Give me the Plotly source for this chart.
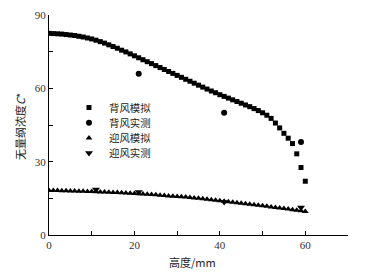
import plotly.graph_objects as go

x_sim = list(range(0, 61))
bw_sim = [82.5, 82.4, 82.3, 82.2, 82.0, 81.8, 81.6, 81.3, 81.0, 80.6,
          80.2, 79.7, 79.1, 78.5, 77.8, 77.1, 76.4, 75.6, 74.9, 74.1,
          73.3, 72.5, 71.7, 70.9, 70.1, 69.3, 68.5, 67.7, 66.9, 66.1,
          65.3, 64.5, 63.7, 62.9, 62.1, 61.3, 60.5, 59.7, 58.9, 58.2,
          57.4, 56.7, 56.0, 55.3, 54.6, 53.9, 53.2, 52.5, 51.7, 50.9,
          50.0, 49.0, 47.7, 45.8, 43.8, 41.6, 39.6, 37.4, 33.2, 27.6,
          22.0]
uw_sim = [18.2, 18.2, 18.2, 18.1, 18.1, 18.0, 18.0, 17.9, 17.9, 17.8,
          17.8, 17.7, 17.6, 17.6, 17.5, 17.4, 17.4, 17.3, 17.2, 17.1,
          17.0, 16.9, 16.8, 16.7, 16.6, 16.5, 16.3, 16.2, 16.0, 15.9,
          15.8, 15.6, 15.5, 15.3, 15.1, 15.0, 14.8, 14.6, 14.4, 14.2,
          14.0, 13.8, 13.6, 13.4, 13.2, 13.0, 12.8, 12.6, 12.4, 12.2,
          12.0, 11.8, 11.5, 11.3, 11.0, 10.8, 10.6, 10.3, 10.1, 9.9,
          9.6]
bw_exp_x = [21, 41, 59]
bw_exp_y = [66, 50, 38]
uw_exp_x = [11, 21, 41, 59]
uw_exp_y = [18.6, 17.6, 13.5, 11.3]

names = ["背风模拟", "背风实测", "迎风模拟", "迎风实测"]

L, R, T, B = 49, 17, 15, 39
W, H = 365, 274
PW, PH = W - L - R, H - T - B

fig = go.Figure()
fig.add_trace(go.Scatter(x=x_sim, y=bw_sim, mode="markers", name=names[0], legend="legend",
                         marker=dict(symbol="square", size=5, color="black")))
fig.add_trace(go.Scatter(x=bw_exp_x, y=bw_exp_y, mode="markers", name=names[1], legend="legend2",
                         marker=dict(symbol="circle", size=6, color="black")))
fig.add_trace(go.Scatter(x=x_sim, y=uw_sim, mode="markers", name=names[2], legend="legend3",
                         marker=dict(symbol="triangle-up", size=6, color="black")))
fig.add_trace(go.Scatter(x=uw_exp_x, y=uw_exp_y, mode="markers", name=names[3], legend="legend4",
                         marker=dict(symbol="triangle-down", size=7, color="black")))


def leg(ypx):
    return dict(x=(69 - L) / PW, y=(H - B - ypx) / PH, xanchor="left", yanchor="middle",
                bgcolor="rgba(0,0,0,0)", font=dict(size=10.4, family="Noto Sans CJK SC", color="#222"),
                itemwidth=30, tracegroupgap=0, borderwidth=0)


tickfont = dict(family="Liberation Serif", size=11, color="#333")
fig.update_layout(
    width=W, height=H,
    margin=dict(l=L, r=R, t=T, b=B, autoexpand=False),
    paper_bgcolor="white", plot_bgcolor="white",
    font=dict(family="Noto Sans CJK SC", color="#222"),
    showlegend=True,
    legend=leg(107.5), legend2=leg(122.7), legend3=leg(137.9), legend4=leg(153.1),
    xaxis=dict(range=[0, 70], showline=True, linecolor="black", linewidth=1,
               ticks="inside", ticklen=4, tickcolor="black", dtick=20, tick0=0,
               showgrid=False, zeroline=False, tickfont=tickfont, automargin=False,
               minor=dict(ticks="inside", ticklen=4, dtick=10, tickcolor="black", showgrid=False)),
    yaxis=dict(range=[0, 90], showline=True, linecolor="black", linewidth=1,
               ticks="inside", ticklen=4, tickcolor="black", dtick=30, tick0=0,
               showgrid=False, zeroline=False, tickfont=tickfont, automargin=False,
               minor=dict(ticks="inside", ticklen=4, dtick=15, tickcolor="black", showgrid=False)),
)
fig.add_annotation(text="无量纲浓度<i>C</i>*", xref="paper", yref="paper",
                   x=(20 - L) / PW, y=(H - B - 127) / PH, xanchor="center", yanchor="middle",
                   textangle=-90, showarrow=False,
                   font=dict(size=11, family="Noto Sans CJK SC", color="#222"))
fig.add_annotation(text="高度/mm", xref="paper", yref="paper",
                   x=(192 - L) / PW, y=(H - B - 262) / PH, xanchor="center", yanchor="middle",
                   showarrow=False,
                   font=dict(size=11, family="Noto Sans CJK SC", color="#222"))
fig.write_html("out.html", config={"displayModeBar": False},
               post_script="document.body.style.margin='0';document.body.style.overflow='hidden';")
